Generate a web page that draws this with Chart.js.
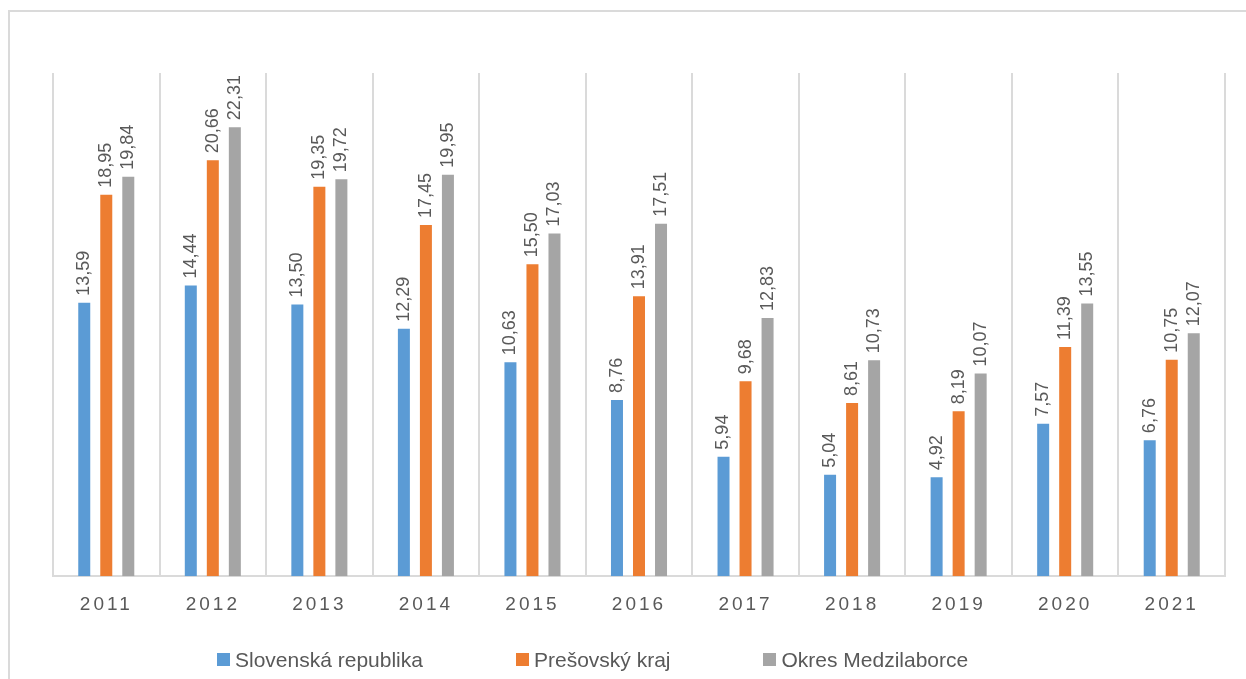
<!DOCTYPE html>
<html>
<head>
<meta charset="utf-8">
<script src="https://cdn.jsdelivr.net/npm/chart.js@4.4.0/dist/chart.umd.min.js"></script>
<style>
    html, body { margin: 0; padding: 0; background: #fff; }
    #wrap { position: relative; width: 1246px; height: 679px; overflow: hidden; }
    #frame { position: absolute; left: 8px; top: 10px; width: 1300px; height: 700px;
             border-top: 2px solid #dadada; border-left: 2px solid #dadada; }
    #chart { position: absolute; left: 0; top: 0; }
    #legend { position: absolute; left: 217px; top: 649px; display: flex; align-items: center;
              gap: 93px; font-family: "Liberation Sans", sans-serif; font-size: 21px; line-height: 21px;
              color: #595959; white-space: nowrap; }
    #legend .item { display: flex; align-items: center; }
    #legend .box { display: inline-block; width: 13px; height: 13px; margin-right: 5px; }
</style>
</head>
<body>
<div id="wrap">
    <div id="frame"></div>
    <canvas id="chart" width="1246" height="679"></canvas>
    <div id="legend"></div>
</div>
<script>
// data
const years = ['2011', '2012', '2013', '2014', '2015', '2016', '2017', '2018', '2019', '2020', '2021'];
const slovenskaRepublika = [13.59, 14.44, 13.50, 12.29, 10.63, 8.76, 5.94, 5.04, 4.92, 7.57, 6.76];
const presovskyKraj = [18.95, 20.66, 19.35, 17.45, 15.50, 13.91, 9.68, 8.61, 8.19, 11.39, 10.75];
const okresMedzilaborce = [19.84, 22.31, 19.72, 19.95, 17.03, 17.51, 12.83, 10.73, 10.07, 13.55, 12.07];
const seriesNames = ['Slovenská republika', 'Prešovský kraj', 'Okres Medzilaborce'];
const seriesColors = ['#5B9BD5', '#ED7D31', '#A5A5A5'];

const textColor = '#595959';
const gridColor = '#dadada';

// popisky hodnot nad stĺpcami, otočené o 90°
const valueLabels = {
    id: 'valueLabels',
    afterDatasetsDraw(chart) {
        const ctx = chart.ctx;
        ctx.save();
        ctx.font = '18px "Liberation Sans", sans-serif';
        ctx.fillStyle = textColor;
        ctx.textAlign = 'left';
        ctx.textBaseline = 'middle';
        chart.data.datasets.forEach((ds, di) => {
            const meta = chart.getDatasetMeta(di);
            meta.data.forEach((bar, i) => {
                const txt = ds.data[i].toFixed(2).replace('.', ',');
                ctx.save();
                ctx.translate(bar.x, bar.y - 7);
                ctx.rotate(-Math.PI / 2);
                ctx.fillText(txt, 0, 0);
                ctx.restore();
            });
        });
        ctx.restore();
    }
};

// roky na osi x s rozostupom písmen
const spacedTicks = {
    id: 'spacedTicks',
    afterLayout(chart) {
        const sc = chart.scales.x;
        if (sc._spaced) return;
        const orig = sc.drawLabels.bind(sc);
        sc.drawLabels = function (area) {
            const c = chart.ctx;
            c.save();
            c.letterSpacing = '3px';
            orig(area);
            c.restore();
        };
        sc._spaced = true;
    }
};

const chart = new Chart(document.getElementById('chart'), {
    type: 'bar',
    data: {
        labels: years,
        datasets: [slovenskaRepublika, presovskyKraj, okresMedzilaborce].map((vals, i) => ({
            label: seriesNames[i],
            data: vals,
            backgroundColor: seriesColors[i],
            categoryPercentage: 0.62,
            barPercentage: 0.545
        }))
    },
    options: {
        responsive: false,
        animation: false,
        layout: { padding: { left: 53, right: 21, top: 73, bottom: 46 } },
        plugins: {
            legend: { display: false },
            tooltip: { enabled: false }
        },
        scales: {
            x: {
                grid: { color: gridColor, lineWidth: 2, drawTicks: false, offset: true },
                border: { color: gridColor, width: 2 },
                ticks: {
                    color: textColor,
                    padding: 17,
                    font: { family: '"Liberation Sans", sans-serif', size: 19 }
                }
            },
            y: {
                display: false,
                min: 0,
                max: 25
            }
        }
    },
    plugins: [valueLabels, spacedTicks]
});

// legenda
const legend = document.getElementById('legend');
chart.data.datasets.forEach(ds => {
    const item = document.createElement('div');
    item.className = 'item';
    item.innerHTML = `<span class="box" style="background:${ds.backgroundColor}"></span>${ds.label}`;
    legend.appendChild(item);
});
</script>
</body>
</html>
